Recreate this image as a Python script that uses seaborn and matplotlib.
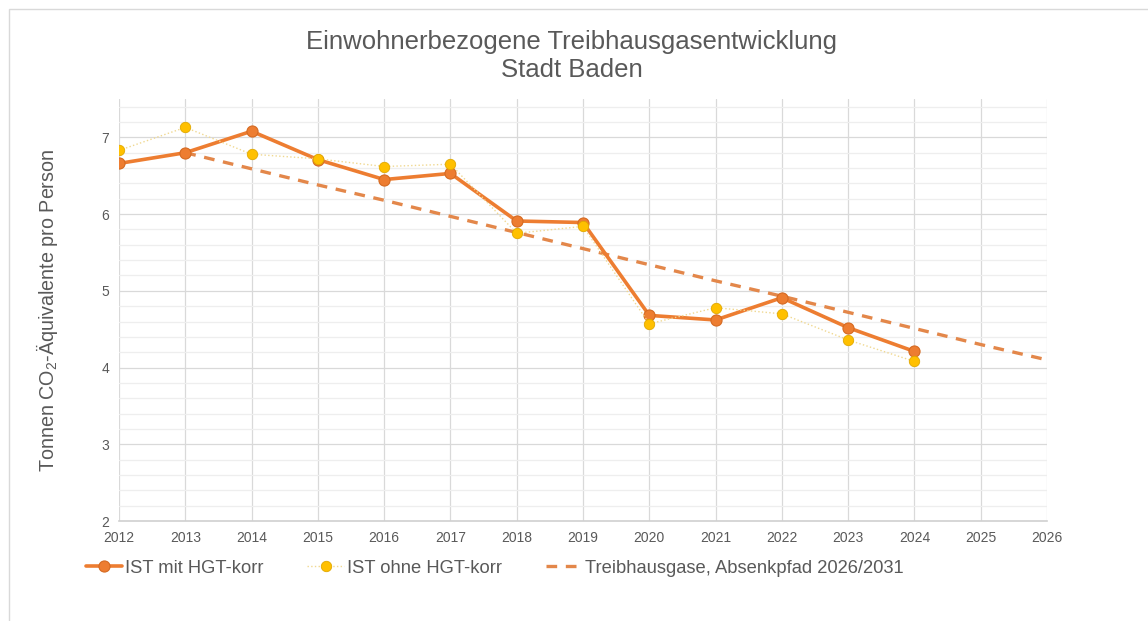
import numpy as np
import pandas as pd
import matplotlib
matplotlib.use("Agg")
import matplotlib.pyplot as plt
from matplotlib.patches import Rectangle
from matplotlib.ticker import MultipleLocator
import seaborn as sns

# ============================================================
# DATEN
# ============================================================
years_ist = [2012, 2013, 2014, 2015, 2016, 2017, 2018, 2019, 2020, 2021, 2022, 2023, 2024]
ist_mit = [6.66, 6.80, 7.08, 6.71, 6.45, 6.53, 5.91, 5.89, 4.68, 4.62, 4.91, 4.52, 4.21]
ist_ohne = [6.83, 7.13, 6.78, 6.72, 6.62, 6.65, 5.75, 5.84, 4.57, 4.78, 4.70, 4.36, 4.08]

years_pfad = [2013, 2014, 2015, 2016, 2017, 2018, 2019, 2020, 2021, 2022, 2023, 2024, 2025, 2026]
pfad = [6.80, 6.59, 6.38, 6.18, 5.97, 5.76, 5.55, 5.34, 5.13, 4.93, 4.72, 4.51, 4.30, 4.10]

df_ist = pd.DataFrame({"Jahr": years_ist, "mit": ist_mit, "ohne": ist_ohne})
df_pfad = pd.DataFrame({"Jahr": years_pfad, "pfad": pfad})

ORANGE = "#ED7D31"
YELLOW = "#FFC000"
TXT = "#595959"

# ============================================================
# PLOT
# ============================================================
sns.set_style("white")
plt.rcParams["font.family"] = ["Liberation Sans", "DejaVu Sans"]
plt.rcParams["mathtext.fontset"] = "custom"
plt.rcParams["mathtext.rm"] = "Liberation Sans"

fig = plt.figure(figsize=(11.48, 6.21), dpi=100)
ax = fig.add_axes([0.1037, 0.161, 0.8083, 0.6796])

# Rahmen um das Diagramm
fig.patches.append(Rectangle((9 / 1148, -0.05), 1.2, 1 - 9 / 621 + 0.05,
                             transform=fig.transFigure, fill=False,
                             edgecolor="#d9d9d9", linewidth=1, zorder=0))

sns.lineplot(data=df_pfad, x="Jahr", y="pfad", ax=ax, color="#E3874A",
             linewidth=2.4, linestyle=(0, (3.2, 2.6)),
             label="Treibhausgase, Absenkpfad 2026/2031", zorder=2)
sns.lineplot(data=df_ist, x="Jahr", y="mit", ax=ax, color=ORANGE, linewidth=2.6,
             marker="o", markersize=8, markeredgecolor="#d56a22", markeredgewidth=0.8,
             label="IST mit HGT-korr", zorder=3)
sns.lineplot(data=df_ist, x="Jahr", y="ohne", ax=ax, color="#f0d890", linewidth=1.0,
             linestyle=":", marker="o", markersize=7.5, markerfacecolor=YELLOW,
             markeredgecolor="#e0a800", markeredgewidth=0.6,
             label="IST ohne HGT-korr", zorder=4)

ax.set_xlim(2012, 2026)
ax.set_ylim(2, 7.5)
ax.set_xticks(range(2012, 2027))
ax.set_yticks([2, 3, 4, 5, 6, 7])
ax.yaxis.set_minor_locator(MultipleLocator(0.2))
ax.grid(True, which="major", axis="both", color="#d9d9d9", linewidth=0.9)
ax.grid(True, which="minor", axis="y", color="#eeeeee", linewidth=0.9)
ax.set_axisbelow(True)
for s in ["top", "right", "left"]:
    ax.spines[s].set_visible(False)
ax.spines["bottom"].set_color("#d0d0d0")
ax.spines["bottom"].set_linewidth(1.2)
ax.tick_params(axis="both", which="both", length=0, labelsize=10, labelcolor=TXT, pad=7)

ax.set_xlabel("")
ax.set_ylabel("Tonnen CO$_2$-Äquivalente pro Person", fontsize=14.2, color=TXT, labelpad=30)

fig.text(0.498, 0.933, "Einwohnerbezogene Treibhausgasentwicklung", ha="center",
         va="center", fontsize=18.5, color=TXT)
fig.text(0.498, 0.888, "Stadt Baden", ha="center", va="center", fontsize=18.5, color=TXT)

handles, labels = ax.get_legend_handles_labels()
order = [1, 2, 0]
ax.legend([handles[i] for i in order], [labels[i] for i in order],
          loc="center left", bbox_to_anchor=(69 / 1148, 0.085),
          bbox_transform=fig.transFigure, ncol=3, frameon=False,
          fontsize=13.2, labelcolor=TXT, handlelength=2.0, handletextpad=0.15,
          columnspacing=2.4)

plt.savefig("out.png", dpi=100)
plt.close()
